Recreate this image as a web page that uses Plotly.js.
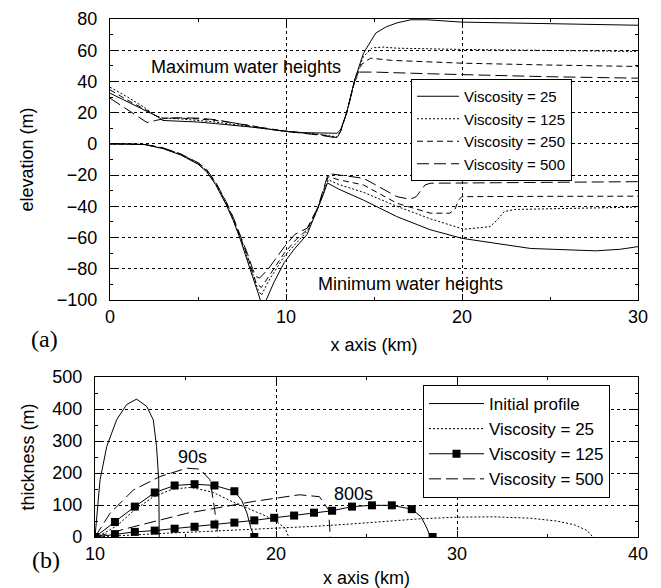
<!DOCTYPE html>
<html><head><meta charset="utf-8">
<script src="https://cdn.plot.ly/plotly-3.0.1.min.js"></script>
<style>html,body{margin:0;padding:0;background:#fff}</style>
</head><body><div id="chart" style="width:661px;height:588px"></div>
<script>
// ===== Panel (a): maximum water heights =====
const maxV25X  = [0, 1, 2, 2.7, 3, 4, 5, 6, 7, 8, 9, 10, 11, 12, 12.9, 13.1, 13.45, 13.9, 14.4, 15.1, 15.7, 16.3, 17.1, 18, 20, 25, 30];
const maxV25Y  = [32.5, 27, 21.5, 17.5, 15, 14.6, 14, 13, 12, 10.8, 9.5, 8, 7.2, 6.8, 6.8, 9, 20, 41, 58, 71, 75, 77.5, 79.5, 79.5, 78, 77, 76];
const maxV125X = [0, 1, 2, 2.6, 3, 4, 5, 6, 7, 8, 9, 10, 11, 12, 12.9, 13.1, 13.45, 13.9, 14.4, 14.9, 15.5, 16.3, 20, 25, 30];
const maxV125Y = [36.3, 30, 23, 18, 16.5, 16, 15, 14, 12.5, 11, 9.5, 8, 7, 6, 4.5, 8, 20, 41, 56, 61.5, 62, 61.3, 60.5, 59.8, 59.2];
const maxV250X = [0, 1, 2, 2.7, 3, 4, 5, 6, 7, 8, 9, 10, 11, 12, 12.9, 13.1, 13.45, 13.9, 14.3, 14.8, 16, 20, 25, 30];
const maxV250Y = [34.6, 28, 22, 17.5, 16.5, 16.5, 16, 15, 13.5, 11.5, 9.8, 8.2, 7, 5.8, 4, 8, 20, 40, 51, 54.9, 53.5, 51.7, 50.5, 49.6];
const maxV500X = [0, 1, 2.1, 2.6, 3.2, 4, 5, 6, 7, 8, 9, 10, 11, 12, 12.9, 13.1, 13.45, 13.9, 14.2, 15, 18.2, 25, 30];
const maxV500Y = [29.3, 22, 13.7, 15, 16.5, 16.7, 16.5, 15.5, 13.5, 11.5, 9.5, 8, 6.8, 5.5, 3.8, 8, 20, 40, 46, 46, 44.9, 43, 42.1];

// ===== Panel (a): minimum water heights =====
const minV25X  = [0, 1, 2, 3, 4, 5, 5.5, 6, 6.6, 7, 7.4, 7.8, 8.1, 8.4, 8.6, 8.8, 9.3, 9.9, 10.5, 11.2, 11.8, 12.1, 12.35, 13, 14.4, 16.3, 18.2, 20, 23.9, 27.6, 29, 30];
const minV25Y  = [0, 0, -0.5, -3, -7, -13, -18, -26, -39, -49, -61, -74, -85, -95, -102, -102, -89, -76, -67, -58, -42, -33, -25, -29, -36, -46.6, -55, -60.5, -67, -68.5, -67.5, -65.8];
const minV125X = [0, 1, 2, 3, 4, 5, 5.5, 6, 6.6, 7, 7.4, 7.8, 8.1, 8.4, 8.6, 9.0, 9.9, 10.6, 11.2, 11.8, 12.4, 13, 14.4, 16.3, 18.2, 20.1, 21.6, 22, 22.4, 23, 30];
const minV125Y = [0, 0, -0.4, -2.8, -6.8, -12.6, -17.5, -25.5, -38.5, -48.5, -60, -73, -83.5, -93, -97, -88, -72, -63, -56, -42, -23, -26, -31, -40, -48, -54.7, -53, -48.7, -43.4, -42, -40.5];
const minV250X = [0, 1, 2, 3, 4, 5, 5.5, 6, 6.6, 7, 7.4, 7.8, 8.1, 8.3, 8.6, 9.0, 9.9, 10.6, 11.2, 11.8, 12.4, 13, 14.4, 16.3, 18.2, 19.3, 19.6, 19.8, 20, 25, 30];
const minV250Y = [0, 0, -0.4, -2.6, -6.5, -12.2, -17, -25, -37.5, -47.5, -59, -71.5, -82, -89, -92, -85, -70, -61, -55, -41, -21, -23, -26.3, -38, -44.4, -44.4, -42, -35.9, -33.8, -33.6, -33.5];
const minV500X = [0, 1, 2, 3, 4, 5, 5.5, 6, 6.6, 7, 7.4, 7.8, 8.1, 8.3, 8.5, 9.0, 9.9, 10.5, 11.2, 11.8, 12.4, 13, 14.4, 16.3, 17.05, 17.4, 17.9, 18.2, 25, 30];
const minV500Y = [0, 0, -0.4, -2.5, -6.3, -12, -16.5, -24.5, -37, -47, -58, -70, -80, -85, -86, -80, -66, -58, -54, -41, -19, -20, -22, -33.8, -35.5, -33.8, -26.3, -25.2, -24.5, -24.2];

// ===== Panel (b): thickness profiles =====
const initX = [10, 10.08, 10.28, 10.65, 11.2, 11.75, 12.3, 12.86, 13.22, 13.4, 13.52, 13.55];
const initY = [0, 60, 179, 283, 367, 414, 431, 408, 366, 283, 179, 0];
const v25t90X  = [10, 10.5, 11.2, 12.1, 13.2, 14.3, 15.3, 16.5, 17.6, 18.5, 19.5, 20.1, 20.5, 20.7];
const v25t90Y  = [0, 12, 35, 80, 125, 150, 155, 140, 110, 88, 64, 45, 28, 0];
const v25t800X = [10, 12, 14, 16, 18, 20, 22, 24, 26, 28, 30, 32, 34, 35.5, 36.5, 37.2, 37.5];
const v25t800Y = [0, 7, 12, 17, 22, 28, 33, 40, 48, 57, 62, 63, 59, 50, 38, 20, 0];
const v125t90X  = [10, 11.1, 12.2, 13.3, 14.4, 15.5, 16.6, 17.7, 18.1, 18.4, 18.6, 18.8];
const v125t90Y  = [0, 47, 95, 139, 161, 165, 161, 143, 115, 74, 30, 0];
const v125t90M  = [1, 1, 1, 1, 1, 1, 1, 1, 0, 0, 0, 1];
const v125t800X = [10, 11.1, 12.2, 13.3, 14.4, 15.5, 16.6, 17.7, 18.8, 19.9, 21.0, 22.1, 23.1, 24.2, 25.3, 26.4, 27.5, 28.0, 28.3, 28.5, 28.65];
const v125t800Y = [0, 9, 16, 20, 26, 32, 39, 45, 52, 60, 67, 76, 82, 95, 99, 99, 87, 64, 32, 5, 0];
const v125t800M = [1, 1, 1, 1, 1, 1, 1, 1, 1, 1, 1, 1, 1, 1, 1, 1, 1, 0, 0, 0, 1];
const v500t90X  = [10, 10.83, 12.12, 13.6, 15.07, 15.8, 16.35, 16.6, 16.8];
const v500t90Y  = [0, 74, 147, 189, 215, 212, 179, 90, 0];
const v500t800X = [10, 12.12, 15.07, 18.75, 21.3, 22.4, 22.9, 23.0];
const v500t800Y = [0, 32, 74, 111, 132, 126, 85, 0];

const FONT = '"Liberation Sans", Arial, Helvetica, sans-serif';
const INK = '#000';
const DOT = '2px,2px', SHORT = '6px,4px', LONG = '12px,5px';

function ln(x, y, dash, name, opts) {
  return Object.assign({
    type: 'scatter', mode: 'lines', x: x, y: y, name: name,
    line: {color: INK, width: 1, dash: dash}, hoverinfo: 'skip'
  }, opts || {});
}
const mc = m => m.map(v => v ? INK : 'rgba(0,0,0,0)');

const traces = [
  ln(maxV25X, maxV25Y, 'solid', 'Viscosity = 25', {xaxis: 'x', yaxis: 'y', legend: 'legend'}),
  ln(maxV125X, maxV125Y, DOT, 'Viscosity = 125', {xaxis: 'x', yaxis: 'y', legend: 'legend'}),
  ln(maxV250X, maxV250Y, SHORT, 'Viscosity = 250', {xaxis: 'x', yaxis: 'y', legend: 'legend'}),
  ln(maxV500X, maxV500Y, LONG, 'Viscosity = 500', {xaxis: 'x', yaxis: 'y', legend: 'legend'}),
  ln(minV25X, minV25Y, 'solid', 'Viscosity = 25', {xaxis: 'x', yaxis: 'y', showlegend: false}),
  ln(minV125X, minV125Y, DOT, 'Viscosity = 125', {xaxis: 'x', yaxis: 'y', showlegend: false}),
  ln(minV250X, minV250Y, SHORT, 'Viscosity = 250', {xaxis: 'x', yaxis: 'y', showlegend: false}),
  ln(minV500X, minV500Y, LONG, 'Viscosity = 500', {xaxis: 'x', yaxis: 'y', showlegend: false}),

  ln(initX, initY, 'solid', 'Initial profile', {xaxis: 'x2', yaxis: 'y2', legend: 'legend2'}),
  ln(v25t90X, v25t90Y, DOT, 'Viscosity = 25', {xaxis: 'x2', yaxis: 'y2', legend: 'legend2'}),
  ln(v25t800X, v25t800Y, DOT, 'Viscosity = 25', {xaxis: 'x2', yaxis: 'y2', showlegend: false}),
  ln(v125t90X, v125t90Y, 'solid', 'Viscosity = 125', {xaxis: 'x2', yaxis: 'y2', legend: 'legend2', mode: 'lines+markers',
     marker: {symbol: 'square', size: 8, color: mc(v125t90M), line: {width: 0}}}),
  ln(v125t800X, v125t800Y, 'solid', 'Viscosity = 125', {xaxis: 'x2', yaxis: 'y2', showlegend: false, mode: 'lines+markers',
     marker: {symbol: 'square', size: 8, color: mc(v125t800M), line: {width: 0}}}),
  ln(v500t90X, v500t90Y, LONG, 'Viscosity = 500', {xaxis: 'x2', yaxis: 'y2', legend: 'legend2'}),
  ln(v500t800X, v500t800Y, LONG, 'Viscosity = 500', {xaxis: 'x2', yaxis: 'y2', showlegend: false})
];

function axis(extra) {
  return Object.assign({
    showline: true, linecolor: INK, linewidth: 1.2, mirror: 'allticks',
    ticks: 'inside', ticklen: 6, tickcolor: INK, tickwidth: 1,
    showgrid: true, gridcolor: '#000', gridwidth: 1, griddash: 'dot',
    zeroline: false, tickfont: {family: FONT, size: 18, color: INK},
    fixedrange: true, layer: 'below traces'
  }, extra);
}

const layout = {
  width: 661, height: 588,
  margin: {l: 0, r: 0, t: 0, b: 0},
  paper_bgcolor: '#fff', plot_bgcolor: '#fff',
  font: {family: FONT, color: INK},
  xaxis: axis({domain: [110/661, 638/661], anchor: 'y', range: [0, 30], dtick: 10, tick0: 0,
    minor: {ticks: 'inside', dtick: 5, ticklen: 3, tickcolor: INK, showgrid: false},
    title: {text: 'x axis (km)', font: {family: FONT, size: 18}, standoff: 12}}),
  yaxis: axis({domain: [1 - 300/588, 1 - 19/588], anchor: 'x', range: [-100, 80], dtick: 20, tick0: 0,
    ticklabelstandoff: 8,
    minor: {ticks: 'inside', dtick: 10, ticklen: 3, tickcolor: INK, showgrid: false},
    title: {text: 'elevation (m)', font: {family: FONT, size: 18}, standoff: 18}}),
  xaxis2: axis({domain: [95/661, 638/661], anchor: 'y2', range: [10, 40], dtick: 10, tick0: 0,
    minor: {ticks: 'inside', dtick: 5, ticklen: 3, tickcolor: INK, showgrid: false},
    title: {text: 'x axis (km)', font: {family: FONT, size: 18}, standoff: 12}}),
  yaxis2: axis({domain: [1 - 537/588, 1 - 377/588], anchor: 'x2', range: [0, 500], dtick: 100, tick0: 0,
    ticklabelstandoff: 8,
    minor: {ticks: 'inside', dtick: 50, ticklen: 3, tickcolor: INK, showgrid: false},
    title: {text: 'thickness (m)', font: {family: FONT, size: 18}, standoff: 12}}),
  legend: {x: 411/661, y: 1 - 79/588, xanchor: 'left', yanchor: 'top',
    bgcolor: '#fff', bordercolor: INK, borderwidth: 1,
    font: {family: FONT, size: 15, color: INK}, itemwidth: 42, tracegroupgap: 0},
  legend2: {x: 423/661, y: 1 - 385/588, xanchor: 'left', yanchor: 'top',
    bgcolor: '#fff', bordercolor: INK, borderwidth: 1,
    font: {family: FONT, size: 17, color: INK}, itemwidth: 55, tracegroupgap: 0},
  annotations: [
    {xref: 'x', yref: 'y', x: 7.73, y: 49.5, text: 'Maximum water heights', showarrow: false,
     font: {family: FONT, size: 18, color: INK}},
    {xref: 'x', yref: 'y', x: 17.1, y: -89.5, text: 'Minimum water heights', showarrow: false,
     font: {family: FONT, size: 18, color: INK}},
    {xref: 'x2', yref: 'y2', x: 15.39, y: 251, text: '90s', showarrow: false,
     font: {family: FONT, size: 18, color: INK}},
    {xref: 'x2', yref: 'y2', x: 24.27, y: 134, text: '800s', showarrow: false,
     font: {family: FONT, size: 18, color: INK}},
    {xref: 'paper', yref: 'paper', x: 29/661, y: 1 - 339/588, text: '(a)', showarrow: false,
     font: {family: '"Liberation Serif", "Times New Roman", serif', size: 24, color: INK}},
    {xref: 'paper', yref: 'paper', x: 30/661, y: 1 - 575/588, text: '(b)', showarrow: false,
     font: {family: '"Liberation Serif", "Times New Roman", serif', size: 24, color: INK}}
  ]
};

Plotly.newPlot('chart', traces, layout, {staticPlot: true, displayModeBar: false});
</script></body></html>
